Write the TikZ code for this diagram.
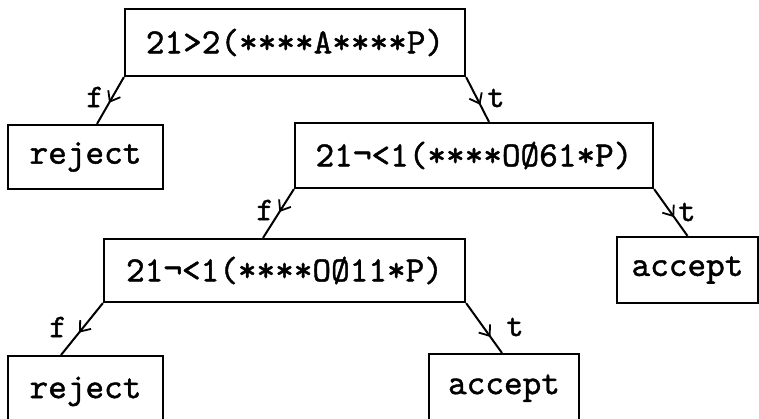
\documentclass[tikz,border=0pt]{standalone}
\usepackage{fontspec}
\newfontfamily\twfont[FakeBold=1.2]{lmmono10-regular.otf}
\usetikzlibrary{arrows.meta,decorations.markings}
\begin{document}
\begin{tikzpicture}[x=1pt,y=-1pt,
  box/.style={draw, line width=2.2pt, inner sep=0pt,
    font=\twfont\fontsize{35.5}{40}\selectfont},
  cutbox/.style={box, anchor=north, inner ysep=0pt},
  lab/.style={inner sep=0pt, font=\twfont\fontsize{33}{38}\selectfont},
  conn/.style={line width=2pt, postaction={decorate},
    decoration={markings, mark=at position #1 with
      {\arrow{Straight Barb[length=9pt,width=14pt,line width=1.8pt]}}}}
]
\useasboundingbox (0,0) rectangle (759,418);

\node[box, minimum width=340pt, minimum height=67pt] (b1) at (295,42.5) {21>2(****A****P)};
\node[box, minimum width=155pt, minimum height=64pt] (r1) at (85.5,157) {reject};
\node[box, minimum width=358pt, minimum height=65pt] (b2) at (474,155.5) {21¬<1(****OØ61*P)};
\node[box, minimum width=361pt, minimum height=63pt] (b3) at (284.5,270.5) {21¬<1(****OØ11*P)};
\node[box, minimum width=141pt, minimum height=66pt] (a1) at (687.5,270) {accept};
\node[cutbox, minimum width=155pt, text height=42pt, text depth=60pt] (r2) at (85.5,355) {reject};
\node[cutbox, minimum width=150pt, text height=40pt, text depth=60pt] (a2) at (504,353) {accept};

\draw[conn=0.55] (b1.south west) -- ([xshift=11.5pt]r1.north);
\draw[conn=0.62] (b1.south east) -- ([xshift=15pt]b2.north);
\draw[conn=0.47] (b2.south west) -- ([xshift=-21.5pt]b3.north);
\draw[conn=0.60] (b2.south east) -- (a1.north);
\draw[conn=0.57] (b3.south west) -- ([xshift=-24.5pt]r2.north);
\draw[conn=0.68] (b3.south east) -- ([xshift=-2pt]a2.north);

\node[lab] (l1) at (95,97) {f};
\node[lab] (l2) at (496,98) {t};
\node[lab] (l3) at (265,210) {f};
\node[lab] (l4) at (687,212) {t};
\node[lab] (l5) at (58,327) {f};
\node[lab] (l6) at (515,327) {t};
\end{tikzpicture}
\end{document}
